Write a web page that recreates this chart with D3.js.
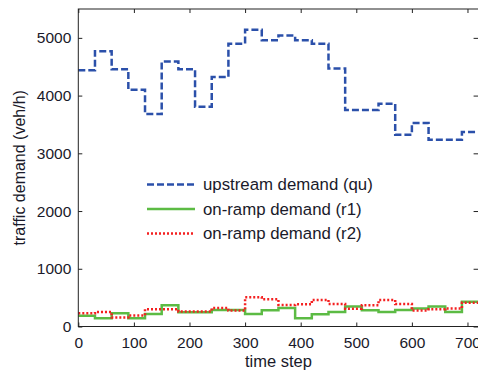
<!DOCTYPE html>
<html>
<head>
<meta charset="utf-8">
<script src="https://d3js.org/d3.v7.min.js"></script>
<style>
body { margin: 0; background: #fff; }
svg { display: block; font-family: "Liberation Sans", Arial, sans-serif; }
</style>
</head>
<body>
<svg width="478" height="374"></svg>
<script>
// step starts (time step) and demand values (veh/h)
var steps = [0,30,60,90,120,150,180,210,240,270,300,330,360,390,420,450,480,510,540,570,600,630,660,690];
var qu = [4440,4770,4455,4100,3680,4590,4455,3805,4320,4900,5140,4960,5040,4960,4900,4470,3750,3750,3860,3320,3525,3235,3235,3370];
var r1 = [185,145,230,145,215,370,245,245,285,285,215,280,322,143,214,253,345,282,253,287,310,345,253,430];
var r2 = [230,253,155,190,299,299,260,260,322,276,506,471,374,384,460,390,309,370,460,390,276,298,310,413];
var xTicks = [0,100,200,300,400,500,600,700];
var yTicks = [0,1000,2000,3000,4000,5000];
var tEnd = 720;

const svg = d3.select("svg");
var x = d3.scaleLinear().domain([0, tEnd]).range([78.3, 478.6]);
var y = d3.scaleLinear().domain([0, 5500]).range([326.5, 9]);

function pts(vals) {
  var p = steps.map(function(s, i) { return [s, vals[i]]; });
  p.push([tEnd, vals[vals.length - 1]]);
  return p;
}
var line = d3.line().x(d => x(d[0])).y(d => y(d[1])).curve(d3.curveStepAfter);

var series = [
  {name: "upstream demand (qu)", vals: qu, color: "#2b50aa", dash: "7,3"},
  {name: "on-ramp demand (r1)", vals: r1, color: "#5cbb44", dash: null},
  {name: "on-ramp demand (r2)", vals: r2, color: "#f42020", dash: "2,2"}
];

// draw r1 first, r2 on top like the picture
[series[1], series[2], series[0]].forEach(function(s) {
  svg.append("path")
    .attr("d", line(pts(s.vals)))
    .attr("fill", "none")
    .attr("stroke", s.color)
    .attr("stroke-width", 2.5)
    .attr("stroke-dasharray", s.dash);
});

// box + axes
var axisColor = "#222";
svg.append("rect")
  .attr("x", x(0)).attr("y", y(5500))
  .attr("width", x(tEnd) - x(0)).attr("height", y(0) - y(5500))
  .attr("fill", "none").attr("stroke", axisColor).attr("stroke-width", 1);

function styleAxis(g) {
  g.select(".domain").remove();
  g.selectAll("line").attr("stroke", axisColor);
  g.selectAll("text").attr("fill", "#1a1a2a").style("font-size", "15.5px");
}

svg.append("g").attr("transform", "translate(0," + y(0) + ")")
  .call(d3.axisBottom(x).tickValues(xTicks).tickSize(-4).tickPadding(10).tickFormat(d3.format("d")))
  .call(styleAxis);
svg.append("g").attr("transform", "translate(0," + y(5500) + ")")
  .call(d3.axisTop(x).tickValues(xTicks).tickSize(-4).tickFormat(""))
  .call(styleAxis);
svg.append("g").attr("transform", "translate(" + x(0) + ",0)")
  .call(d3.axisLeft(y).tickValues(yTicks).tickSize(-4).tickPadding(7).tickFormat(d3.format("d")))
  .call(styleAxis);
svg.append("g").attr("transform", "translate(" + x(tEnd) + ",0)")
  .call(d3.axisRight(y).tickValues(yTicks).tickSize(-5).tickFormat(""))
  .call(styleAxis);

// axis labels
svg.append("text")
  .attr("x", x(360)).attr("y", 367)
  .attr("text-anchor", "middle")
  .attr("fill", "#1a1a2a").style("font-size", "16.5px")
  .text("time step");
svg.append("text")
  .attr("transform", "translate(25," + y(2750) + ") rotate(-90)")
  .attr("text-anchor", "middle")
  .attr("fill", "#1a1a2a").style("font-size", "16px")
  .text("traffic demand (veh/h)");

// legend
var leg = svg.append("g");
series.forEach(function(s, i) {
  var ly = 184.5 + i * 24.5;
  leg.append("line")
    .attr("x1", 147).attr("x2", 195).attr("y1", ly).attr("y2", ly)
    .attr("stroke", s.color).attr("stroke-width", 2.5)
    .attr("stroke-dasharray", s.dash);
  leg.append("text")
    .attr("x", 203).attr("y", ly + 5.5)
    .attr("fill", "#1a1a2a").style("font-size", "16.8px")
    .text(s.name);
});
</script>
</body>
</html>
